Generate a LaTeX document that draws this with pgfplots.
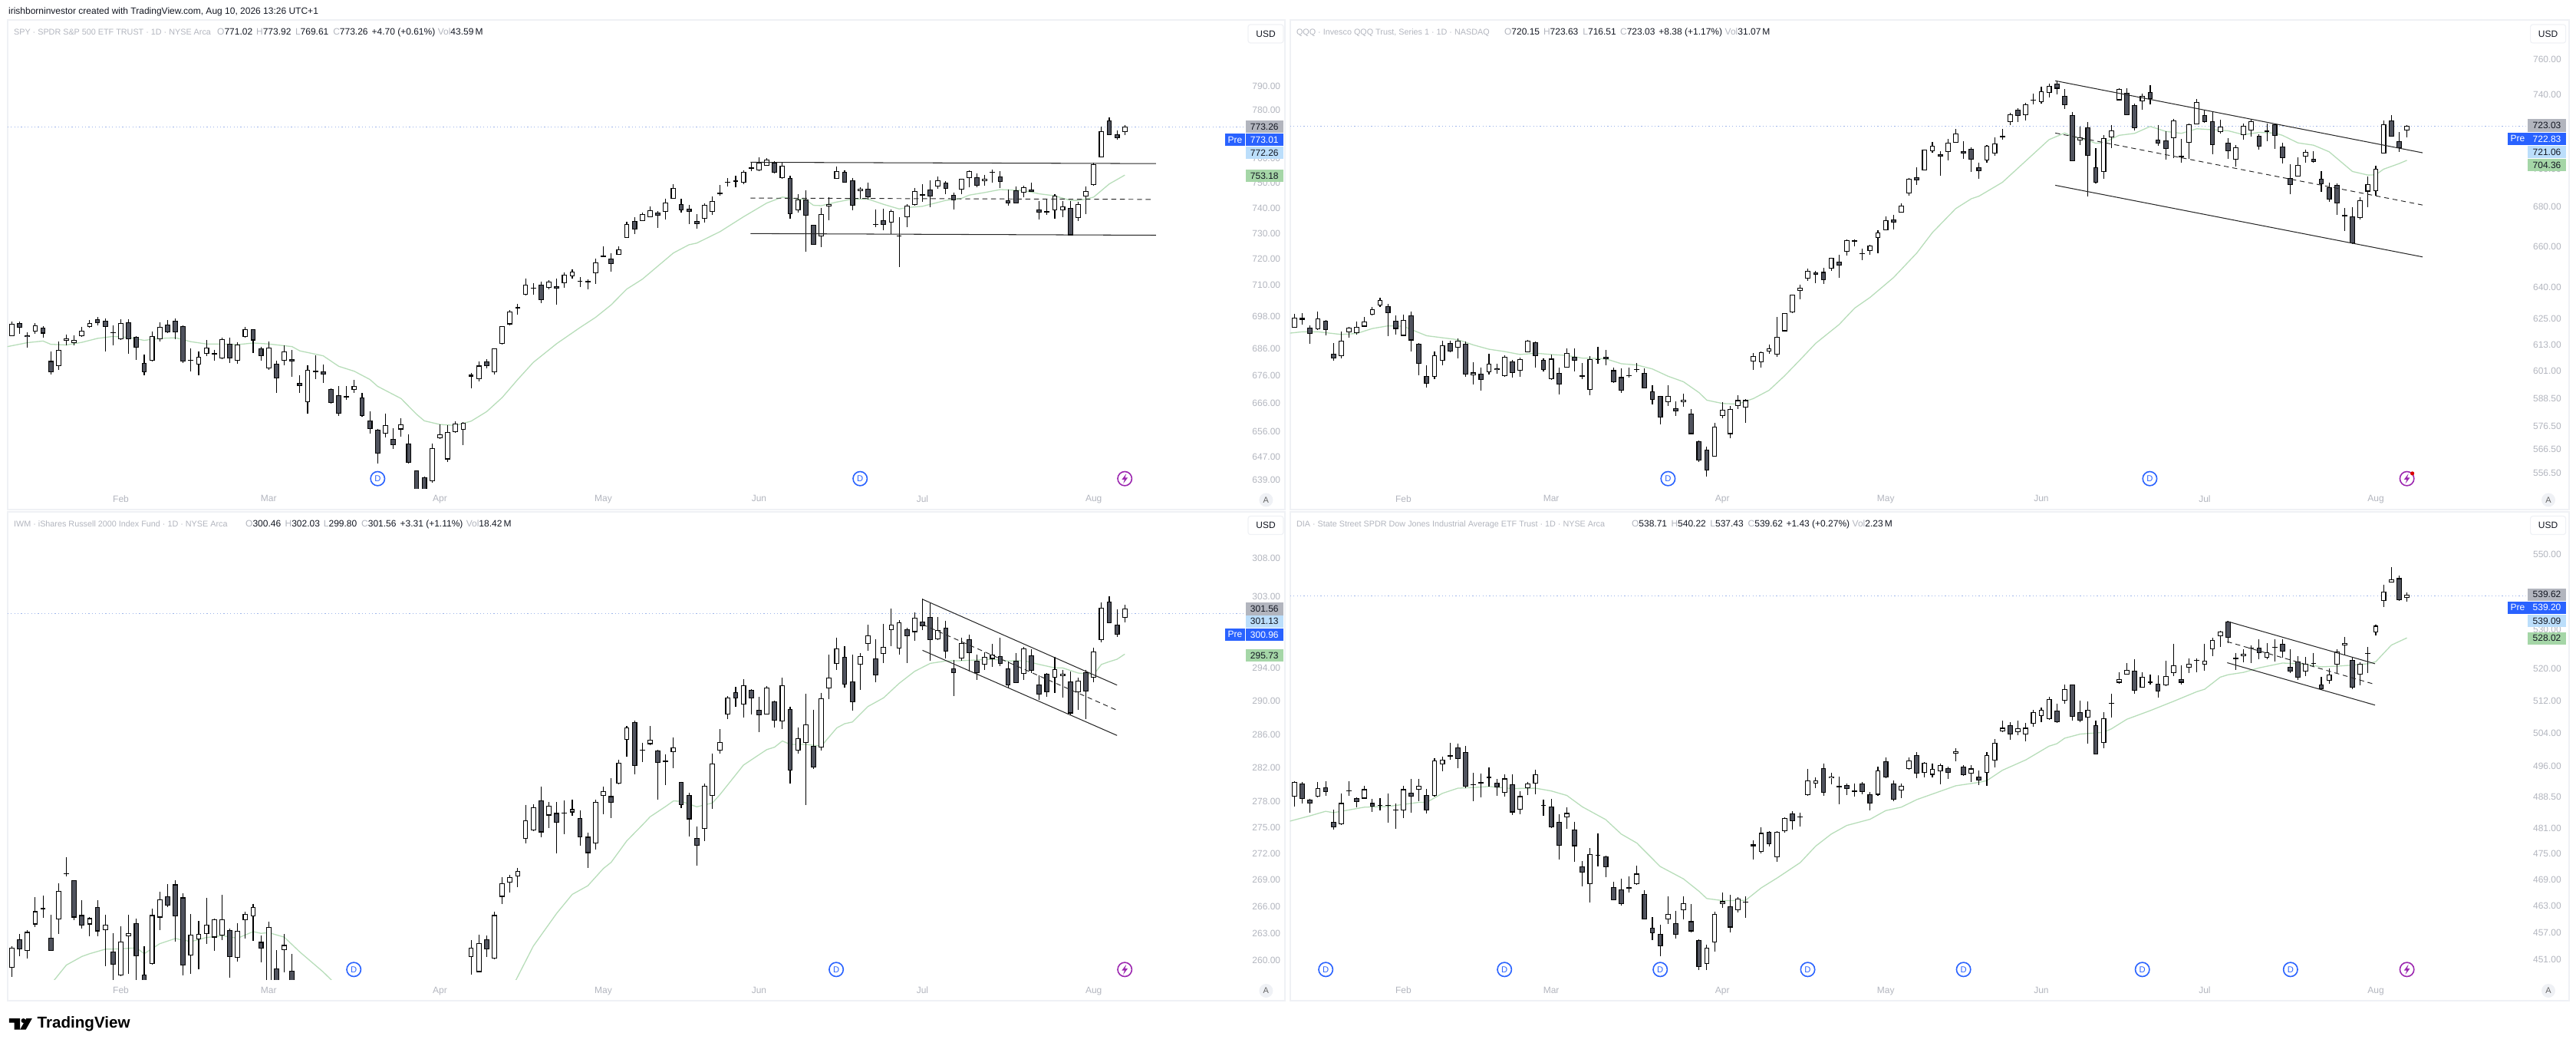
\documentclass[border=0pt]{standalone}
\usepackage{pgfplots}
\usepackage{pgfplotstable}
\usepackage{fontspec}
\pgfplotsset{compat=1.18}
\setmainfont{Liberation Sans}
\definecolor{tvg}{HTML}{B2B5BE}
\definecolor{tvk}{HTML}{131722}
\definecolor{tvb}{HTML}{2962FF}
\definecolor{tvl}{HTML}{BBDEFB}
\definecolor{tvm}{HTML}{A5D6A7}
\definecolor{tvd}{HTML}{50535E}
\definecolor{tvf}{HTML}{EFF1F5}
\definecolor{tvp}{HTML}{9C27B0}
\definecolor{tvs}{HTML}{B7DDB9}
\definecolor{tvh}{HTML}{9DB4EA}
% All y values below are positions on TradingView's logarithmic price scale.
\pgfplotstableread{
i h l t b u
0 979 1024 986 1024 1
1 979 1016 984 998 0
2 1012 1059 1020 1026 0
3 983 1017 991 1010 1
4 993 1027 998 1015 0
5 1070 1139 1099 1132 0
6 1039 1126 1066 1115 1
7 1018 1052 1031 1038 1
8 1020 1050 1035 1045 1
9 996 1026 1007 1024 1
10 975 998 984 996 1
11 965 990 972 984 0
12 970 1070 977 996 0
13 990 1050 1011 1013 1
14 971 1034 984 1033 1
15 971 1077 980 1033 0
16 1022 1095 1026 1059 0
17 1080 1143 1104 1132 0
18 1008 1100 1024 1099 1
19 982 1040 996 1033 1
20 975 1013 989 1012 0
21 970 1033 977 1012 0
22 990 1105 993 1101 0
23 1060 1130 1096 1098 1
24 1070 1143 1087 1110 1
25 1035 1084 1059 1078 1
26 1064 1097 1075 1080 0
27 1027 1094 1033 1092 1
28 1027 1106 1047 1092 0
29 1042 1107 1049 1097 1
30 996 1027 1003 1026 1
31 1002 1074 1003 1036 0
32 1055 1097 1061 1085 0
33 1040 1125 1059 1122 1
34 1098 1196 1108 1152 0
35 1052 1113 1069 1099 1
36 1065 1147 1094 1101 0
37 1142 1196 1166 1175 0
38 1112 1258 1125 1225 1
39 1081 1153 1129 1134 0
40 1110 1165 1131 1141 0
41 1183 1228 1185 1227 0
42 1175 1265 1202 1260 0
43 1175 1216 1205 1209 1
44 1157 1195 1174 1187 1
45 1196 1268 1209 1267 0
46 1252 1319 1281 1305 0
47 1305 1410 1309 1380 0
48 1258 1332 1295 1319 1
49 1304 1366 1337 1354 0
50 1272 1328 1291 1307 1
51 1322 1410 1349 1408 0
52 1431 1520 1431 1510 0
53 1450 1520 1452 1510 0
54 1350 1470 1363 1465 1
55 1292 1337 1322 1334 1
56 1295 1406 1316 1398 1
57 1282 1318 1289 1316 1
58 1285 1355 1286 1309 1
59 1135 1182 1141 1146 1
60 1100 1162 1113 1155 1
61 1093 1122 1101 1114 0
62 1060 1139 1061 1134 1
63 992 1048 993 1047 1
64 944 990 949 987 1
65 925 957 935 940 1
66 847 900 867 898 1
67 862 897 876 878 1
68 857 923 866 914 0
69 853 880 858 875 1
70 848 928 872 879 0
71 830 875 836 863 1
72 821 847 827 842 1
73 844 873 855 857 1
74 851 880 855 860 0
75 788 864 799 831 1
76 750 783 778 783 1
77 770 826 787 804 0
78 750 776 760 776 1
79 674 725 682 724 1
80 662 712 673 698 0
81 648 673 652 673 1
82 628 661 640 661 1
83 643 694 647 656 0
84 604 667 616 644 1
85 560 605 572 605 1
86 606 647 621 640 0
87 624 683 635 645 0
88 651 696 673 682 0
89 620 678 624 666 1
90 598 654 612 645 1
91 564 596 586 591 1
92 542 568 553 557 1
93 535 571 550 554 0
94 518 561 523 556 1
95 494 522 509 514 1
96 480 521 495 519 1
97 481 505 485 504 1
98 491 529 496 525 0
99 494 544 504 542 1
100 536 666 542 652 0
101 592 646 607 640 1
102 580 767 607 656 0
103 684 746 684 745 0
104 632 753 652 720 1
105 600 671 621 628 1
106 508 545 521 544 1
107 518 557 523 556 0
108 541 639 549 626 0
109 570 606 574 581 1
110 555 607 574 600 0
111 637 692 682 684 1
112 635 701 670 684 0
113 638 712 642 678 1
114 660 813 718 720 1
115 621 692 627 661 1
116 572 625 582 624 1
117 561 614 591 596 0
118 548 631 577 598 0
119 538 575 549 568 1
120 551 592 556 574 0
121 586 637 593 610 0
122 544 590 544 577 1
123 518 571 520 542 1
124 527 570 539 565 0
125 532 566 544 551 1
126 516 555 523 526 0
127 522 573 537 554 0
128 578 626 609 619 0
129 567 620 579 619 0
130 565 601 570 586 1
131 557 585 577 584 0
132 613 669 638 647 0
133 604 653 642 646 0
134 590 665 596 640 1
135 612 662 628 640 1
136 613 716 633 716 0
137 614 673 622 663 1
138 567 651 582 598 1
139 495 566 499 564 1
140 385 480 399 479 1
141 358 412 366 411 0
142 396 426 408 420 0
143 380 412 385 402 1
}\spy
\pgfplotstableread{
i h l t b u
0 955 998 968 998 1
1 953 987 968 973 0
2 990 1047 998 1017 0
3 948 1005 970 1003 1
4 975 1020 977 1005 0
5 1044 1097 1076 1092 0
6 1010 1092 1038 1083 1
7 996 1028 998 1011 1
8 978 1019 996 1014 1
9 965 995 979 994 1
10 935 960 942 957 1
11 906 935 914 929 1
12 925 1023 932 954 0
13 960 1018 977 1001 0
14 957 1022 975 1022 1
15 948 1071 961 1036 0
16 1045 1142 1047 1108 0
17 1112 1180 1145 1167 0
18 1070 1155 1082 1146 1
19 1037 1112 1052 1097 1
20 1038 1072 1045 1071 0
21 1030 1092 1038 1059 1
22 1040 1147 1047 1141 0
23 1103 1170 1134 1143 1
24 1118 1190 1138 1157 0
25 1078 1140 1108 1132 1
26 1107 1138 1121 1127 0
27 1082 1147 1087 1145 1
28 1095 1150 1101 1136 0
29 1088 1147 1094 1129 1
30 1034 1073 1036 1073 1
31 1040 1118 1042 1085 0
32 1090 1130 1096 1127 0
33 1080 1157 1092 1155 1
34 1120 1200 1136 1171 0
35 1060 1120 1075 1118 1
36 1060 1130 1087 1097 0
37 1105 1155 1143 1148 0
38 1084 1202 1094 1186 1
39 1055 1108 1094 1096 0
40 1064 1112 1087 1094 0
41 1118 1165 1127 1164 0
42 1122 1195 1148 1188 0
43 1120 1150 1142 1144 0
44 1105 1134 1124 1126 0
45 1122 1182 1136 1181 0
46 1172 1232 1192 1218 0
47 1205 1292 1206 1270 0
48 1172 1236 1206 1224 1
49 1222 1265 1243 1252 0
50 1198 1238 1216 1223 1
51 1245 1322 1260 1321 0
52 1340 1407 1342 1401 0
53 1360 1450 1368 1431 0
54 1288 1390 1298 1389 1
55 1225 1272 1248 1267 1
56 1236 1334 1244 1321 1
57 1204 1244 1218 1235 1
58 1215 1287 1218 1240 1
59 1075 1126 1083 1101 1
60 1070 1118 1073 1102 1
61 1048 1076 1061 1069 1
62 965 1086 1026 1079 1
63 953 1008 954 1008 1
64 896 953 897 950 1
65 866 910 876 885 1
66 817 854 825 847 1
67 825 863 829 836 0
68 815 865 828 853 0
69 784 825 785 818 1
70 775 845 797 808 0
71 728 777 731 767 1
72 728 750 731 736 1
73 758 792 770 772 1
74 745 776 748 764 1
75 700 770 708 724 1
76 658 701 671 700 1
77 654 698 668 678 0
78 618 647 626 647 1
79 541 596 544 589 1
80 510 564 539 549 0
81 455 519 455 519 1
82 433 465 444 460 1
83 460 535 470 476 0
84 424 488 434 462 1
85 393 434 406 434 1
86 431 484 460 467 0
87 449 523 453 486 0
88 495 544 509 521 0
89 442 495 443 488 1
90 419 475 436 467 1
91 392 425 414 418 0
92 343 381 348 371 1
93 330 371 334 352 0
94 314 366 317 350 1
95 285 317 303 306 0
96 263 315 279 310 1
97 255 296 261 283 1
98 245 288 254 270 0
99 272 332 291 320 0
100 340 490 350 490 0
101 385 442 418 427 1
102 372 597 387 474 0
103 452 558 509 556 0
104 412 545 420 523 1
105 380 451 397 418 1
106 268 306 272 305 1
107 269 351 282 350 0
108 316 397 319 390 0
109 285 335 292 309 1
110 260 317 280 302 0
111 380 444 425 437 0
112 400 487 427 453 0
113 361 481 366 420 1
114 424 495 474 478 0
115 375 483 378 434 1
116 302 378 310 378 1
117 333 373 350 371 0
118 340 470 368 441 0
119 365 407 385 402 1
120 420 483 434 460 0
121 442 508 448 485 1
122 375 426 382 411 1
123 362 416 369 397 1
124 408 456 413 446 0
125 375 430 398 402 0
126 375 454 378 413 0
127 435 497 446 481 0
128 501 590 542 563 0
129 480 538 502 537 1
130 456 495 462 476 1
131 460 495 484 493 0
132 520 585 545 561 0
133 556 614 570 607 0
134 558 654 563 619 0
135 634 702 654 658 0
136 630 742 659 741 0
137 600 668 609 664 1
138 538 630 561 583 1
139 504 595 514 581 1
140 367 468 378 467 1
141 351 417 366 416 0
142 403 462 429 452 0
143 380 419 383 398 1
}\qqq
\pgfplotstableread{
i h l t b u
0 1275 1365 1279 1337 1
1 1240 1305 1255 1284 0
2 1228 1310 1234 1288 1
3 1133 1220 1174 1212 1
4 1129 1192 1165 1168 0
5 1184 1288 1250 1288 0
6 1093 1240 1114 1197 1
7 1017 1072 1063 1065 0
8 1083 1200 1083 1192 0
9 1142 1225 1185 1215 0
10 1190 1246 1194 1212 1
11 1142 1247 1161 1232 0
12 1184 1334 1212 1229 1
13 1238 1385 1290 1328 0
14 1218 1362 1261 1360 1
15 1185 1355 1237 1246 1
16 1196 1385 1208 1304 0
17 1275 1395 1357 1395 0
18 1167 1328 1185 1327 1
19 1118 1228 1139 1192 1
20 1095 1162 1130 1157 0
21 1084 1262 1096 1188 0
22 1122 1361 1134 1331 0
23 1182 1355 1241 1302 1
24 1202 1342 1239 1255 1
25 1135 1268 1212 1240 1
26 1195 1288 1197 1250 1
27 1126 1258 1197 1244 1
28 1225 1367 1228 1306 0
29 1208 1320 1230 1308 1
30 1176 1252 1181 1199 1
31 1152 1260 1161 1188 1
32 1245 1323 1263 1282 0
33 1204 1395 1219 1395 1
34 1287 1395 1339 1395 0
35 1240 1350 1272 1286 1
36 1298 1395 1346 1395 0
59 1258 1358 1279 1306 1
60 1241 1352 1266 1350 1
61 1245 1307 1255 1284 0
62 1176 1314 1185 1312 1
63 1074 1153 1092 1132 1
64 1068 1120 1075 1090 1
65 1048 1105 1058 1072 1
66 865 977 911 963 1
67 863 942 873 940 1
68 813 960 853 945 0
69 857 932 867 896 1
70 858 1007 889 918 0
71 853 950 889 891 1
72 850 898 878 887 1
73 881 984 904 960 0
74 946 1048 958 1005 0
75 851 995 857 978 1
76 812 892 826 840 1
77 787 903 840 860 0
78 735 805 744 804 1
79 636 725 641 677 1
80 622 777 625 753 0
81 685 742 706 708 0
82 636 693 677 689 1
83 706 850 708 744 0
84 720 807 737 741 1
85 669 758 699 713 1
86 798 875 799 866 0
87 831 957 837 907 0
88 928 1042 962 983 0
89 804 970 811 934 1
90 716 877 746 840 1
91 645 716 684 708 1
92 550 617 554 603 1
93 524 580 539 557 0
94 500 613 518 574 1
95 530 604 532 557 0
96 552 654 590 606 0
97 520 604 525 603 1
98 564 642 565 621 0
99 497 645 518 623 1
100 580 803 588 766 0
101 640 717 673 708 1
102 544 865 632 686 1
103 589 762 695 757 0
104 540 707 556 699 1
105 430 558 496 527 1
106 380 473 411 456 1
107 406 526 436 516 0
108 430 591 507 567 0
109 425 531 434 458 1
110 343 418 373 398 1
111 384 509 440 490 0
112 340 455 408 427 1
113 297 406 342 358 1
114 330 430 336 411 1
115 352 455 355 376 0
116 308 390 322 364 1
117 268 358 333 347 0
118 280 448 320 387 0
119 320 388 358 385 1
120 332 440 351 420 0
121 445 549 469 483 0
122 380 448 396 441 1
123 372 478 385 425 0
124 430 504 447 483 0
125 422 474 436 458 1
126 398 466 430 442 1
127 381 462 434 456 0
128 449 526 469 518 0
129 424 513 447 512 0
130 408 502 411 486 1
131 413 484 431 476 0
132 490 560 517 545 0
133 484 553 485 539 0
134 437 540 472 496 1
135 475 555 485 492 1
136 478 606 507 600 0
137 497 590 505 539 1
138 473 617 481 537 0
139 409 509 421 496 1
140 278 394 293 387 1
141 261 339 275 338 0
142 299 379 342 371 0
143 285 335 295 322 1
}\iwm
\pgfplotstableread{
i h l t b u
0 796 870 799 842 1
1 799 862 804 849 0
2 848 888 851 862 0
3 800 843 817 842 1
4 796 840 815 829 0
5 880 936 915 931 0
6 832 923 860 922 1
7 796 838 824 826 0
8 843 872 846 858 0
9 810 849 820 847 1
10 848 885 860 870 0
11 846 881 866 868 0
12 832 917 866 868 0
13 862 935 879 881 0
14 810 903 820 882 1
15 790 888 831 842 0
16 790 855 811 822 1
17 820 890 837 882 0
18 729 842 737 840 1
19 725 767 735 748 1
20 685 734 721 726 1
21 687 758 699 733 0
22 694 816 713 813 0
23 773 854 805 808 0
24 775 843 799 804 1
25 756 812 784 789 1
26 790 838 802 815 0
27 777 841 789 831 1
28 776 894 806 887 0
29 825 892 840 880 1
30 798 836 804 817 1
31 763 834 777 804 1
32 850 898 865 867 0
33 849 932 871 931 0
34 893 1024 915 983 0
35 872 935 889 902 1
36 914 1030 936 985 0
37 1028 1102 1043 1061 0
38 991 1148 1009 1096 1
39 948 1044 1010 1012 0
40 1013 1075 1015 1047 0
41 1089 1142 1103 1141 0
42 1080 1158 1110 1154 0
43 1072 1119 1104 1108 0
44 1042 1098 1065 1096 1
45 1112 1198 1123 1197 0
46 1191 1258 1221 1237 0
47 1214 1305 1239 1275 0
48 1131 1210 1181 1197 1
49 1172 1254 1208 1243 0
50 1130 1198 1150 1170 1
51 1153 1236 1203 1232 0
52 1255 1344 1257 1335 0
53 1272 1344 1279 1326 1
54 1175 1291 1181 1264 1
55 1120 1163 1145 1152 1
56 1127 1236 1159 1221 0
57 1132 1178 1137 1170 1
58 1130 1193 1146 1148 0
59 968 1024 980 985 1
60 930 1005 947 1002 1
61 942 986 944 980 0
62 942 1030 944 1018 1
63 901 946 904 941 1
64 884 936 891 913 0
65 888 928 899 902 0
66 761 840 795 837 1
67 785 817 795 804 1
68 745 840 759 831 0
69 772 805 783 789 1
70 783 863 811 815 0
71 804 837 808 820 0
72 803 842 824 827 0
73 799 835 804 829 0
74 828 881 835 862 0
75 755 840 766 836 1
76 727 787 739 786 0
77 795 855 804 851 0
78 803 845 811 823 1
79 727 763 737 762 1
80 713 787 721 775 0
81 742 785 744 773 1
82 745 785 762 778 1
83 746 806 750 768 1
84 755 790 759 773 0
85 701 738 710 716 1
86 749 782 755 780 0
87 750 798 760 775 1
88 766 809 784 795 0
89 713 811 721 773 1
90 674 756 686 737 1
91 621 655 642 652 1
92 626 676 634 661 0
93 621 664 644 654 1
94 628 680 642 661 1
95 590 638 597 630 1
96 584 625 590 608 1
97 553 618 559 617 1
98 571 628 592 626 0
99 517 572 530 563 1
100 516 620 516 610 0
101 562 625 597 621 0
102 565 687 590 612 1
103 620 720 634 719 0
104 597 702 614 686 1
105 544 611 569 571 0
106 480 515 501 511 1
107 454 488 474 487 1
108 444 544 476 534 0
109 480 526 494 525 1
110 488 517 507 512 1
111 490 554 514 537 0
112 447 520 492 519 1
113 399 491 460 484 1
114 460 517 501 511 0
115 440 483 456 467 1
116 440 480 445 447 0
117 398 477 447 458 1
118 381 433 387 414 1
119 360 408 363 376 1
120 332 396 333 380 0
121 424 473 438 443 0
122 415 451 427 434 1
123 402 455 409 411 0
124 386 442 409 425 0
125 397 443 423 438 1
126 386 450 407 409 0
127 384 438 398 421 0
128 413 484 465 479 0
129 433 503 450 496 0
130 437 491 456 479 1
131 424 462 455 457 0
132 494 533 516 530 0
133 470 514 487 505 1
134 413 482 421 458 1
135 378 430 396 403 1
136 438 530 445 525 0
137 452 519 456 487 1
138 408 482 424 427 0
139 342 375 346 365 1
140 226 292 246 273 1
141 176 221 212 220 1
142 200 273 208 271 0
143 249 277 255 264 1
}\dia
\newcommand{\candles}[1]{%
\addplot[draw=none,no markers,forget plot,error bars/.cd,y dir=plus,y explicit,error mark=none,error bar style={draw=black,line width=0.55pt}] table[x=i,y=h,y error expr=\thisrow{l}-\thisrow{h}]{#1};
\addplot[draw=none,no markers,forget plot,error bars/.cd,y dir=plus,y explicit,error mark=none,error bar style={draw=black,line width=3.4pt}] table[x=i,y=t,y error expr=\thisrow{b}-\thisrow{t}]{#1};
\addplot[draw=none,no markers,forget plot,error bars/.cd,y dir=plus,y explicit,error mark=none,error bar style={draw=white,line width=2.3pt}] table[x expr={\thisrow{u}>0.5?\thisrow{i}:nan},y expr=\thisrow{t}+2.5,y error expr={max(\thisrow{b}-\thisrow{t}-5,0)}]{#1};
\addplot[draw=none,no markers,forget plot,error bars/.cd,y dir=plus,y explicit,error mark=none,error bar style={draw=tvd,line width=2.3pt}] table[x expr={\thisrow{u}<0.5?\thisrow{i}:nan},y expr=\thisrow{t}+2.5,y error expr={max(\thisrow{b}-\thisrow{t}-5,0)}]{#1};
}
\pgfplotsset{tv/.style={scale only axis,anchor=north west,y dir=reverse,clip=true,
 axis line style={draw=none},tick style={draw=none},major tick length=0pt,
 xmin=-0.58,xtick={14,33,55,76,96,117,139},xticklabels={Feb,Mar,Apr,May,Jun,Jul,Aug},
 xticklabel pos=lower,yticklabel pos=right,
 tick label style={font=\fontsize{6}{7}\selectfont,text=tvg},
 yticklabel style={anchor=west,inner sep=0pt,xshift=4.5pt},
 xticklabel style={inner sep=0pt,yshift=-4.5pt},
 sma/.style={draw=tvs,line width=0.65pt,mark=none,forget plot},
 tl/.style={draw=black!85,line width=0.52pt,mark=none,forget plot},
 tld/.style={draw=black!85,line width=0.48pt,mark=none,forget plot,dash pattern=on 3.2pt off 2.4pt},
 pl/.style={draw=tvh,line width=0.5pt,mark=none,forget plot,dash pattern=on 0.6pt off 1.6pt}}}
\newcommand{\fnt}{\fontsize{6}{7}\selectfont}
\newcommand{\tfnt}{\fontsize{5.4}{7}\selectfont}
\newcommand{\tagb}[6]{\node[fill=#4,text=#5,inner sep=0pt,minimum width={(#2-#1)*0.5pt},minimum height=8.3pt,anchor=center,font=\fnt] at ({(#1+#2)/2},#3) {#6};}
\newcommand{\dcirc}[2]{\node[circle,draw=tvb,line width=0.8pt,fill=white,text=tvb,inner sep=0pt,minimum size=9.2pt,font=\fontsize{5.6}{6}\selectfont] at (#1,#2) {D};}
\newcommand{\bolt}[2]{\node[circle,draw=tvp,line width=0.8pt,fill=white,inner sep=0pt,minimum size=9.2pt] at (#1,#2) {};
 \fill[tvp,shift={(#1,#2)}] (2,-6.5) -- (-3.8,1.2) -- (-0.3,1.2) -- (-2,6.5) -- (3.8,-1.2) -- (0.3,-1.2) -- cycle;}
\newcommand{\abtn}[2]{\node[circle,fill=tvf,inner sep=0pt,minimum size=9pt,text=black!60,font=\fontsize{5.5}{6}\selectfont] at (#1,#2) {A};}
\newcommand{\usd}[3]{\draw[tvf,line width=0.6pt,rounded corners=1.5pt] (#1,#3) rectangle (#2,{#3+24});
 \node[text=tvk,font=\fnt,inner sep=0pt] at ({(#1+#2)/2},{#3+12}) {USD};}
\newcommand{\ptx}[4]{\node[anchor=base west,inner sep=0pt,text=#3,font=\fnt] at (#1,#2) {#4};}
\newcommand{\ptt}[3]{\node[anchor=base west,inner sep=0pt,text=tvg,font=\tfnt] at (#1,#2) {#3};}
\begin{document}
\begin{tikzpicture}
\path[use as bounding box] (0,0) rectangle (1679pt,-681.5pt);
\begin{scope}[x=0.5pt,y=-0.5pt]
\draw[tvf,line width=1pt] (9.6,26.5) rectangle (1675,664);
\draw[tvf,line width=1pt] (1681.6,26.5) rectangle (3349,664);
\draw[tvf,line width=1pt] (9.6,667) rectangle (1675,1304);
\draw[tvf,line width=1pt] (1681.6,667) rectangle (3349,1304);
\end{scope}
% SPY
\begin{axis}[tv,at={(4.8pt,-13.25pt)},width=806.7pt,height=304.75pt,xmax=158.45,ymin=62,ymax=1485.6,
 ytick={263,336,482,557,633,710,787,867,963,1061,1143,1228,1314,1391,1461},
 yticklabels={790.00,780.00,760.00,750.00,740.00,730.00,720.00,710.00,698.00,686.00,676.00,666.00,656.00,647.00,639.00}]
\addplot[pl] coordinates {(-1,386)(159,386)};
\addplot[sma] coordinates {(-1,1057)(2,1043)(4,1038)(5,1048)(7,1050)(9,1042)(11,1030)(13,1024)(15,1027)(17,1036)(19,1030)(21,1028)(23,1040)(25,1047)(27,1047)(29,1049)(31,1044)(33,1047)(36,1055)(37,1068)(40,1083)(42,1115)(44,1130)(46,1155)(47,1176)(50,1213)(52,1261)(53,1281)(55,1292)(57,1295)(59,1282)(61,1253)(63,1210)(65,1155)(67,1103)(70,1046)(73,997)(75,966)(77,928)(79,880)(81,850)(83,810)(85,770)(87,745)(88,740)(91,705)(94,660)(97,618)(99,600)(100,603)(102,608)(103,625)(104,626)(106,615)(108,606)(110,606)(112,622)(114,636)(115,632)(117,628)(120,610)(122,604)(123,594)(125,586)(127,577)(128,578)(130,580)(132,590)(134,596)(136,610)(137,610)(138,606)(139,600)(141,560)(143,533)};
\candles{\spy}
\addplot[tl] coordinates {(94.9,494)(147,498)};
\addplot[tld] coordinates {(94.9,603)(146.5,607)};
\addplot[tl] coordinates {(94.9,711)(147,716)};
\end{axis}
% QQQ
\begin{axis}[tv,at={(840.8pt,-13.25pt)},width=805.55pt,height=304.75pt,xmax=158.3,ymin=62,ymax=1485.6,
 ytick={181,289,514,630,750,874,970,1049,1129,1213,1297,1367,1440},
 yticklabels={760.00,740.00,700.00,680.00,660.00,640.00,625.00,613.00,601.00,588.50,576.50,566.50,556.50}]
\addplot[pl] coordinates {(-1,384)(159,384)};
\addplot[sma] coordinates {(-1,1015)(1,1010)(3,1010)(6,1018)(8,1015)(10,1000)(12,992)(14,993)(15,1003)(17,1022)(19,1028)(21,1034)(23,1050)(25,1063)(27,1070)(29,1079)(31,1075)(33,1079)(35,1082)(37,1090)(40,1092)(42,1107)(44,1111)(46,1123)(48,1145)(50,1162)(52,1195)(53,1218)(55,1228)(57,1230)(59,1213)(61,1188)(63,1144)(65,1095)(67,1045)(70,988)(72,938)(74,905)(77,845)(80,770)(82,708)(85,635)(87,605)(88,597)(91,555)(94,490)(97,425)(99,405)(100,415)(102,428)(103,436)(104,435)(106,412)(108,406)(110,385)(112,400)(114,406)(116,392)(118,395)(120,398)(122,410)(124,403)(126,405)(127,412)(129,435)(131,442)(133,462)(135,502)(136,522)(138,533)(139,532)(140,515)(142,498)(143,488)};
\candles{\qqq}
\addplot[tl] coordinates {(97.8,246)(145,465)};
\addplot[tld] coordinates {(97.8,405)(145,624)};
\addplot[tl] coordinates {(97.8,564)(145,782)};
\end{axis}
% IWM
\begin{axis}[tv,at={(4.8pt,-333.6pt)},width=806.7pt,height=304.6pt,xmax=158.45,ymin=16,ymax=1372,
 ytick={150,261,469,565,661,757,855,931,1007,1083,1161,1239,1317},
 yticklabels={308.00,303.00,294.00,290.00,286.00,282.00,278.00,275.00,272.00,269.00,266.00,263.00,260.00}]
\addplot[pl] coordinates {(-1,310)(159,310)};
\addplot[sma] coordinates {(5,1385)(5.5,1372)(7,1330)(9,1305)(10,1297)(12,1284)(14,1283)(16,1280)(17,1297)(19,1268)(21,1253)(23,1262)(25,1250)(27,1245)(29,1252)(31,1233)(32,1238)(33,1236)(35,1249)(37,1292)(40,1350)(41,1372)(42,1395)};
\addplot[sma] coordinates {(64,1395)(64.8,1372)(67,1275)(70,1180)(72,1125)(74,1100)(76,1050)(77,1032)(79,970)(81.3,917)(82,900)(84,870)(85,854)(86,855)(88,871)(90,860)(91,835)(94,750)(95,735)(97,705)(98,698)(99,680)(100,690)(102,690)(104,695)(106,642)(107,630)(108,625)(110,580)(112,555)(114,513)(116,478)(118,455)(120,448)(122,447)(124,445)(126,443)(128,448)(130,447)(132,458)(134,468)(135,468)(137,483)(139,487)(140,458)(141,450)(142,443)(143,428)};
\candles{\iwm}
\addplot[tl] coordinates {(117,269)(142,518)};
\addplot[tld] coordinates {(117,342)(142,591)};
\addplot[tl] coordinates {(117,417)(142,664)};
\end{axis}
% DIA
\begin{axis}[tv,at={(840.8pt,-333.6pt)},width=805.55pt,height=304.6pt,xmax=158.3,ymin=16,ymax=1372,
 ytick={138,358,471,563,657,753,842,933,1007,1083,1159,1237,1315},
 yticklabels={550.00,530.00,520.00,512.00,504.00,496.00,488.50,481.00,475.00,469.00,463.00,457.00,451.00}]
\addplot[pl] coordinates {(-1,259)(159,259)};
\addplot[sma] coordinates {(-1,915)(2,897)(4,884)(5,888)(7,880)(9,872)(12,870)(14,864)(16,858)(17,858)(19,832)(21,817)(23,815)(25,812)(28,818)(31,817)(33,825)(35,838)(37,871)(40,908)(42,950)(44,976)(47,1044)(50,1080)(52,1116)(53,1137)(55,1143)(57,1143)(58,1142)(60,1106)(62,1078)(65,1033)(67,985)(69,950)(71,925)(74,907)(76,882)(78,872)(80,850)(82,834)(85,810)(88,800)(89,795)(91,765)(94,735)(97,695)(98,688)(99,672)(101,660)(104,655)(105,645)(107,617)(110,592)(113,565)(116,537)(117,530)(119,495)(120,488)(122,481)(124,468)(127,454)(128,455)(130,458)(132,465)(134,463)(136,460)(138,456)(139,450)(141,402)(143,381)};
\candles{\dia}
\addplot[tl] coordinates {(119.9,333)(138.9,456)};
\addplot[tld] coordinates {(119.9,392)(138.9,516)};
\addplot[tl] coordinates {(119.9,453)(138.9,576)};
\end{axis}
\begin{scope}[x=0.5pt,y=-0.5pt]
% price tags
\tagb{1623.6}{1673}{165}{tvg}{tvk}{773.26}
\tagb{1623.6}{1673}{182}{tvb}{white}{773.01}
\tagb{1597}{1623}{182}{tvb}{white}{Pre}
\tagb{1623.6}{1673}{199}{tvl}{tvk}{772.26}
\tagb{1623.6}{1673}{229}{tvm}{tvk}{753.18}
\tagb{3295.4}{3344.6}{163.7}{tvg}{tvk}{723.03}
\tagb{3295.4}{3344.6}{180.9}{tvb}{white}{722.83}
\tagb{3268.7}{3295}{180.9}{tvb}{white}{Pre}
\tagb{3295.4}{3344.6}{198}{tvl}{tvk}{721.06}
\tagb{3295.4}{3344.6}{215.2}{tvm}{tvk}{704.36}
\tagb{1623.6}{1673}{793.2}{tvg}{tvk}{301.56}
\tagb{1623.6}{1673}{809.8}{tvl}{tvk}{301.13}
\tagb{1623.6}{1673}{826.9}{tvb}{white}{300.96}
\tagb{1597}{1623}{826.9}{tvb}{white}{Pre}
\tagb{1623.6}{1673}{854}{tvm}{tvk}{295.73}
\tagb{3295.4}{3344.6}{774.8}{tvg}{tvk}{539.62}
\tagb{3295.4}{3344.6}{791.8}{tvb}{white}{539.20}
\tagb{3268.7}{3295}{791.8}{tvb}{white}{Pre}
\tagb{3295.4}{3344.6}{808.9}{tvl}{tvk}{539.09}
\tagb{3295.4}{3344.6}{831.8}{tvm}{tvk}{528.02}
% USD, A
\usd{1627}{1673}{32}\usd{3298.6}{3344.6}{32}\usd{1627}{1673}{672.6}\usd{3298.6}{3344.6}{672.6}
\abtn{1650.4}{651.5}\abtn{3322}{651.5}\abtn{1650.4}{1291}\abtn{3322}{1291}
% events
\dcirc{492.3}{623.7}\dcirc{1121.2}{623.7}\bolt{1466.2}{623.7}
\dcirc{2174.4}{623.7}\dcirc{2802.4}{623.7}\bolt{3137.6}{623.7}
\fill[red!85!black] (3144.6,616.9) circle (2.6);
\dcirc{461.2}{1263.3}\dcirc{1090.1}{1263.3}\bolt{1466.2}{1263.3}
\dcirc{1728.2}{1263.3}\dcirc{1961.2}{1263.3}\dcirc{2164.2}{1263.3}\dcirc{2356.5}{1263.3}
\dcirc{2559.6}{1263.3}\dcirc{2792.7}{1263.3}\dcirc{2985.8}{1263.3}\bolt{3137.6}{1263.3}
% headers
\ptx{10.7}{18.5}{tvk}{irishborninvestor created with TradingView.com, Aug 10, 2026 13:26 UTC+1}
\ptt{17.7}{46}{SPY · SPDR S\&P 500 ETF TRUST · 1D · NYSE Arca}
\ptx{282.8}{46}{tvg}{O\textcolor{tvk}{771.02}}\ptx{333.7}{46}{tvg}{H\textcolor{tvk}{773.92}}\ptx{384.6}{46}{tvg}{L\textcolor{tvk}{769.61}}\ptx{433.9}{46}{tvg}{C\textcolor{tvk}{773.26}}
\ptx{484.2}{46}{tvk}{+4.70 (+0.61\%)}\ptx{570.4}{46}{tvg}{Vol\textcolor{tvk}{43.59\,M}}
\ptt{1689.6}{46}{QQQ · Invesco QQQ Trust, Series 1 · 1D · NASDAQ}
\ptx{1960.7}{46}{tvg}{O\textcolor{tvk}{720.15}}\ptx{2011.6}{46}{tvg}{H\textcolor{tvk}{723.63}}\ptx{2063}{46}{tvg}{L\textcolor{tvk}{716.51}}\ptx{2111.7}{46}{tvg}{C\textcolor{tvk}{723.03}}
\ptx{2162}{46}{tvk}{+8.38 (+1.17\%)}\ptx{2248.3}{46}{tvg}{Vol\textcolor{tvk}{31.07\,M}}
\ptt{17.7}{686.5}{IWM · iShares Russell 2000 Index Fund · 1D · NYSE Arca}
\ptx{319.8}{686.5}{tvg}{O\textcolor{tvk}{300.46}}\ptx{371.2}{686.5}{tvg}{H\textcolor{tvk}{302.03}}\ptx{421.5}{686.5}{tvg}{L\textcolor{tvk}{299.80}}\ptx{470.8}{686.5}{tvg}{C\textcolor{tvk}{301.56}}
\ptx{521.2}{686.5}{tvk}{+3.31 (+1.11\%)}\ptx{607.4}{686.5}{tvg}{Vol\textcolor{tvk}{18.42\,M}}
\ptt{1689.6}{686.5}{DIA · State Street SPDR Dow Jones Industrial Average ETF Trust · 1D · NYSE Arca}
\ptx{2126.7}{686.5}{tvg}{O\textcolor{tvk}{538.71}}\ptx{2178.1}{686.5}{tvg}{H\textcolor{tvk}{540.22}}\ptx{2229}{686.5}{tvg}{L\textcolor{tvk}{537.43}}\ptx{2278.3}{686.5}{tvg}{C\textcolor{tvk}{539.62}}
\ptx{2328.1}{686.5}{tvk}{+1.43 (+0.27\%)}\ptx{2414.3}{686.5}{tvg}{Vol\textcolor{tvk}{2.23\,M}}
% logo
\fill[black] (11.8,1327.1) rectangle (26.2,1332.5) (18.7,1332.5) rectangle (26.2,1341.5);
\fill[black] (30.5,1330) circle (3);
\fill[black] (34.3,1327.1) -- (41.8,1327.1) -- (33.7,1341.5) -- (26.2,1341.5) -- cycle;
\node[anchor=west,inner sep=0pt,text=black,font=\fontsize{10.3}{12}\selectfont\bfseries] at (48.2,1334.7) {TradingView};
\end{scope}
\end{tikzpicture}
\end{document}
